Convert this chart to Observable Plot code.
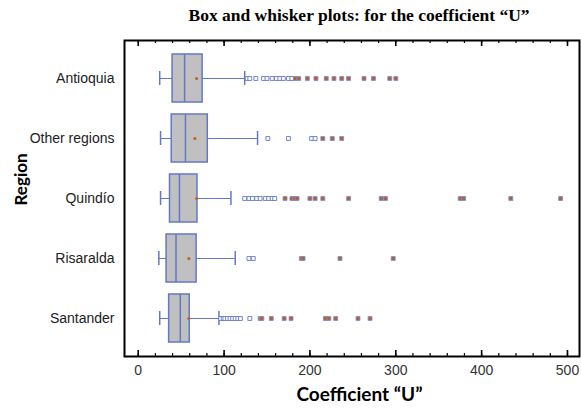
<!DOCTYPE html>
<html><head><meta charset="utf-8">
<script src="https://cdn.jsdelivr.net/npm/d3@7"></script>
<script src="https://cdn.jsdelivr.net/npm/@observablehq/plot@0.6"></script>
<style>
body{margin:0;background:#fff;}
#title{height:30px;width:581px;box-sizing:border-box;padding-left:137px;text-align:center;font:bold 17.5px "Liberation Serif","Times New Roman",serif;line-height:30px;color:#000;}
</style></head><body>
<div id="title">Box and whisker plots: for the coefficient “U”</div>
<div id="chart"></div>
<script>
const regions = ["Antioquia", "Other regions", "Quindío", "Risaralda", "Santander"];
const lowerWhisker = [25, 26, 26, 24, 25];
const q1 = [40, 39, 37, 33, 36];
const median = [54, 55, 48, 44, 49];
const mean = [68, 66, 68, 59, 59];
const q3 = [75, 81, 69, 68, 60];
const upperWhisker = [124, 139, 108, 113, 94];
const outAntioquia = [127,130,137,146,150,156,161,165,169,175,179,183,187,197,207,219,228,237,245,263,274,293,300];
const outOther = [151,175,202,206,215,226,237];
const outQuindio = [124,129,133,138,142,148,152,156,159,171,179,182,185,200,206,215,245,283,288,375,379,434,492];
const outRisaralda = [129,134,190,192,235,297];
const outSantander = [96,99,101,104,107,110,113,116,119,130,142,144,155,170,178,218,222,230,256,270];
const outliers = [outAntioquia, outOther, outQuindio, outRisaralda, outSantander];
const majorTicks = [0, 100, 200, 300, 400, 500];
const minorTicks = [0,20,40,60,80,100,120,140,160,180,200,220,240,260,280,300,320,340,360,380,400,420,440,460,480,500];
const xLabel = "Coefficient “U”";
const yLabel = "Region";

const blue = "#6478c8";
const stats = regions.map((r, i) => ({region: r, lo: lowerWhisker[i], q1: q1[i], med: median[i], mean: mean[i], q3: q3[i], hi: upperWhisker[i]}));
const outs = regions.flatMap((r, i) => outliers[i].map(v => ({region: r, v, far: v > q3[i] + 3 * (q3[i] - q1[i])})));

const plot = Plot.plot({
  width: 581, height: 382,
  marginTop: 10, marginBottom: 56, marginLeft: 124, marginRight: 2,
  style: {fontFamily: "'Liberation Sans', Arial, sans-serif", fontSize: "14px", color: "#222", background: "#fff", overflow: "visible"},
  x: {domain: [-16, 514]},
  y: {domain: regions, paddingInner: 0.2, paddingOuter: 0.233},
  marks: [
    Plot.ruleX(minorTicks, {x: d => d, insetTop: 313, stroke: "#000", strokeWidth: 1.2}),
    Plot.ruleX(majorTicks, {x: d => d, insetTop: 310, stroke: "#000", strokeWidth: 1.6}),
    Plot.ruleX(minorTicks, {x: d => d, insetBottom: 313, stroke: "#000", strokeWidth: 1.2}),
    Plot.ruleX(majorTicks, {x: d => d, insetBottom: 310, stroke: "#000", strokeWidth: 1.6}),
    Plot.axisX({ticks: majorTicks, tickSize: 0, tickPadding: 9, label: null, fill: "#333"}),
    Plot.axisY({tickSize: 0, tickPadding: 10, label: null, fill: "#222"}),
    Plot.ruleY(stats, {y: "region", x1: "lo", x2: "hi", stroke: blue, strokeWidth: 1.2}),
    Plot.tickX(stats, {y: "region", x: "lo", insetTop: 17, insetBottom: 17, stroke: blue, strokeWidth: 1.5}),
    Plot.tickX(stats, {y: "region", x: "hi", insetTop: 17, insetBottom: 17, stroke: blue, strokeWidth: 1.5}),
    Plot.barX(stats, {y: "region", x1: "q1", x2: "q3", fill: "#c0c0c0", stroke: blue, strokeWidth: 1.5}),
    Plot.tickX(stats, {y: "region", x: "med", stroke: blue, strokeWidth: 1.5}),
    Plot.dot(stats, {y: "region", x: "mean", r: 1.6, fill: "#c0602a"}),
    Plot.dot(outs, {y: "region", x: "v", symbol: "square", r: 2.2, stroke: d => d.far ? "#8090d0" : blue, strokeWidth: 0.9, fill: d => d.far ? "#b5602e" : "#fff"}),
    Plot.frame({stroke: "#000", strokeWidth: 2}),
    Plot.text([yLabel], {frameAnchor: "left", dx: -103, dy: 7, rotate: -90, fontWeight: "bold", fontSize: 17, fontFamily: "Lato, 'Open Sans', sans-serif", fill: "#000"}),
    Plot.text([xLabel], {frameAnchor: "bottom", dx: 7.5, dy: 44, fontWeight: "bold", fontSize: 19, fontFamily: "Lato, 'Open Sans', sans-serif", fill: "#000"})
  ]
});
document.getElementById("chart").appendChild(plot);
</script>
</body></html>
